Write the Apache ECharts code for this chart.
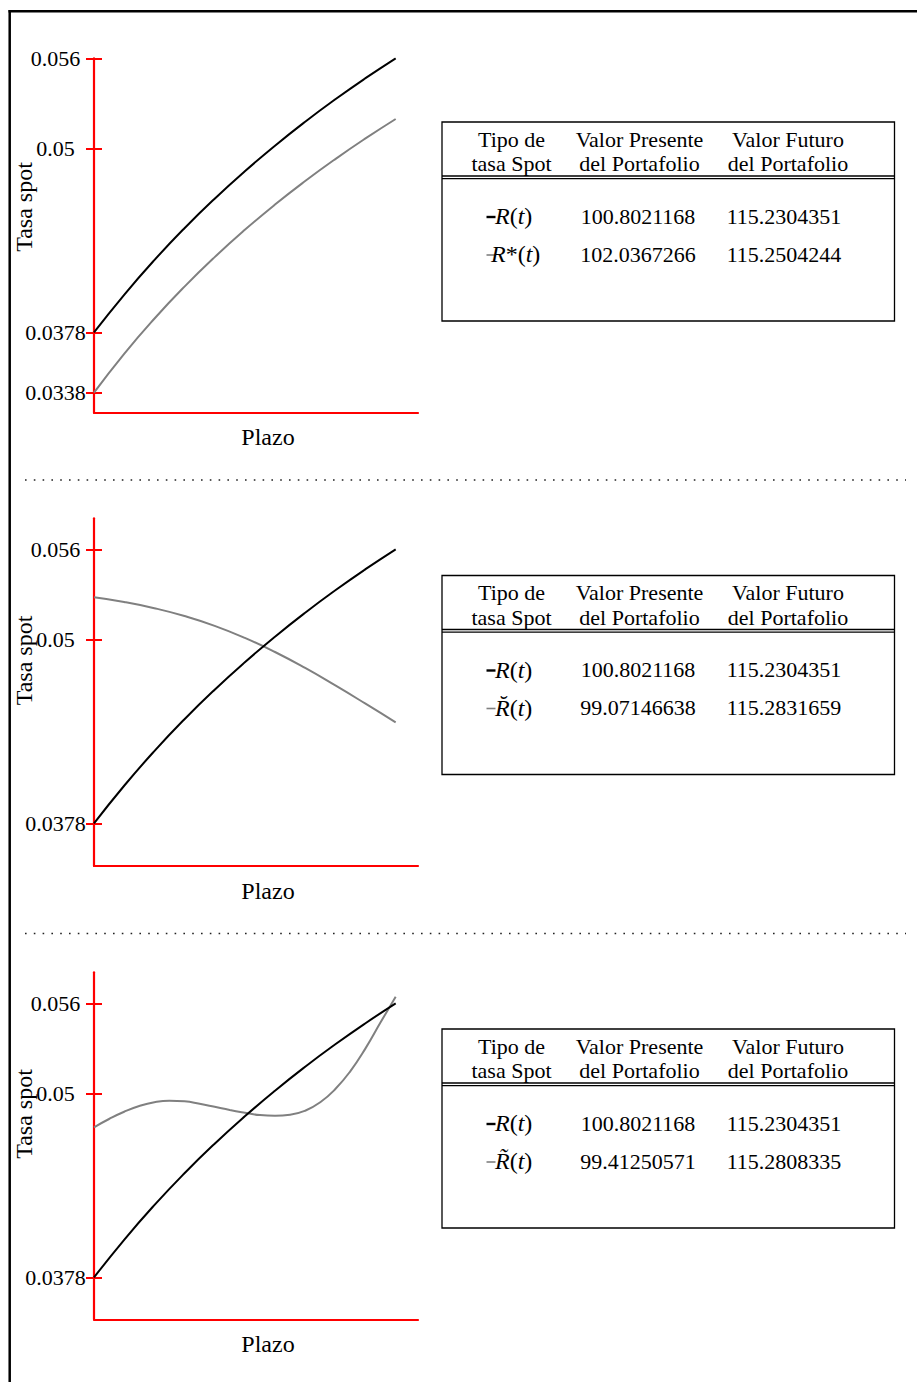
<!DOCTYPE html>
<html>
<head>
<meta charset="utf-8">
<script src="https://cdn.jsdelivr.net/npm/echarts@6/dist/echarts.min.js"></script>
<style>
  html, body { margin: 0; padding: 0; background: #fff; }
  #chart { width: 917px; height: 1382px; }
</style>
</head>
<body>
<div id="chart"></div>
<script>
// Plazo (term) grids: coarse for the smooth curves, fine for the wavy one
const plazo = [0, 1, 2, 3, 4, 5, 6, 7, 8, 9, 10];
const plazoFino = [0, 0.5, 1, 1.5, 2, 2.5, 3, 3.5, 4, 4.5, 5, 5.5, 6, 6.5, 7, 7.5, 8, 8.5, 9, 9.5, 10];

// Spot-rate curves
const tasaR      = [0.03780, 0.04030, 0.04260, 0.04472, 0.04668, 0.04850, 0.05020, 0.05179, 0.05328, 0.05468, 0.05600];
const tasaRStar  = [0.03380, 0.03638, 0.03871, 0.04084, 0.04280, 0.04461, 0.04629, 0.04785, 0.04931, 0.05068, 0.05197];
const tasaRBreve = [0.05281, 0.05250, 0.05209, 0.05157, 0.05092, 0.05012, 0.04918, 0.04812, 0.04696, 0.04575, 0.04451];
const tasaRTilde = [0.04777, 0.04832, 0.04880, 0.04918, 0.04943, 0.04953, 0.04949, 0.04933, 0.04913, 0.04892, 0.04874,
                    0.04858, 0.04854, 0.04860, 0.04887, 0.04943, 0.05031, 0.05150, 0.05301, 0.05474, 0.05644];

// Labelled ticks on the rate axis of each panel
const ticksPanel1 = [0.0338, 0.0378, 0.05, 0.056];
const ticksPanel23 = [0.0378, 0.05, 0.056];

// Table contents
const tableHeader = [['Tipo de', 'tasa Spot'], ['Valor Presente', 'del Portafolio'], ['Valor Futuro', 'del Portafolio']];
const rowNames = [
  ['{i|R}({i|t})', '{i|R}*({i|t})'],
  ['{i|R}({i|t})', '{i|R\u0306}({i|t})'],
  ['{i|R}({i|t})', '{i|R\u0303}({i|t})']
];
const valorPresente = [
  ['100.8021168', '102.0367266'],
  ['100.8021168', '99.07146638'],
  ['100.8021168', '99.41250571']
];
const valorFuturo = [
  ['115.2304351', '115.2504244'],
  ['115.2304351', '115.2831659'],
  ['115.2304351', '115.2808335']
];

const panels = [
  { base: tasaR, alt: tasaRStar,  altX: plazo,     ticks: ticksPanel1,  yMin: 0.03247, yMax: 0.056,   top: 58.3,  height: 354.4 },
  { base: tasaR, alt: tasaRBreve, altX: plazo,     ticks: ticksPanel23, yMin: 0.03497, yMax: 0.05806, top: 518.3, height: 347.7 },
  { base: tasaR, alt: tasaRTilde, altX: plazoFino, ticks: ticksPanel23, yMin: 0.03502, yMax: 0.05806, top: 972.3, height: 347.0 }
];

const STEP = 453.5;
const FONT = 'Liberation Serif';
const RED = '#ff0000';
const GRAY = '#808080';

const grids = [], xAxes = [], yAxes = [], series = [], graphics = [];

const toXY = (xs, ys) => ys.map((v, i) => [xs[i], v]);
const txt = (size) => size + 'px "' + FONT + '"';

panels.forEach((p, k) => {
  grids.push({ left: 94, top: p.top, width: 324, height: p.height, outerBoundsMode: 'none' });
  xAxes.push({
    type: 'value', gridIndex: k, min: 0, max: 10.74,
    axisLine: { onZero: false, lineStyle: { color: RED, width: 2.2 } },
    axisTick: { show: false }, axisLabel: { show: false }, splitLine: { show: false }
  });
  // outer half of each tick plus the labels
  yAxes.push({
    type: 'value', gridIndex: k, position: 'left', min: p.yMin, max: p.yMax,
    axisLine: { show: true, onZero: false, lineStyle: { color: RED, width: 2.2 } },
    axisTick: { show: true, length: 8, customValues: p.ticks, lineStyle: { color: RED, width: 2 } },
    axisLabel: {
      customValues: p.ticks, formatter: v => String(v),
      align: 'center', margin: 38.5,
      fontFamily: FONT, fontSize: 22, color: '#000'
    },
    splitLine: { show: false }
  });
  // inner half of each tick
  yAxes.push({
    type: 'value', gridIndex: k, position: 'left', offset: 0, min: p.yMin, max: p.yMax,
    axisLine: { show: false, onZero: false },
    axisTick: { show: true, inside: true, length: 8, customValues: p.ticks, lineStyle: { color: RED, width: 2 } },
    axisLabel: { show: false }, splitLine: { show: false }
  });
  series.push({
    type: 'line', xAxisIndex: k, yAxisIndex: 2 * k, data: toXY(p.altX, p.alt),
    smooth: 0.5, showSymbol: false, silent: true,
    lineStyle: { color: GRAY, width: 2 }
  });
  series.push({
    type: 'line', xAxisIndex: k, yAxisIndex: 2 * k, data: toXY(plazo, p.base),
    smooth: 0.5, showSymbol: false, silent: true,
    lineStyle: { color: '#000', width: 2 }
  });

  const dy = STEP * k;
  // axis titles
  graphics.push({
    type: 'text', x: 24, y: 207 + dy, rotation: Math.PI / 2,
    style: { text: 'Tasa spot', font: txt(24), fill: '#000', align: 'center', verticalAlign: 'middle' }
  });
  graphics.push({
    type: 'text', x: 268, y: 437 + dy,
    style: { text: 'Plazo', font: txt(24), fill: '#000', align: 'center', verticalAlign: 'middle' }
  });

  // table frame and header rule
  graphics.push({ type: 'rect', shape: { x: 442, y: 122 + dy, width: 452.5, height: 199 },
    style: { fill: 'none', stroke: '#000', lineWidth: 1.3 } });
  graphics.push({ type: 'line', shape: { x1: 442, y1: 176 + dy, x2: 894.5, y2: 176 + dy }, style: { stroke: '#000', lineWidth: 1.3 } });
  graphics.push({ type: 'line', shape: { x1: 442, y1: 178.6 + dy, x2: 894.5, y2: 178.6 + dy }, style: { stroke: '#000', lineWidth: 1.3 } });

  const colX = [511.5, 639.5, 788];
  tableHeader.forEach((lines, c) => {
    lines.forEach((t, r) => {
      graphics.push({
        type: 'text', x: colX[c], y: (r === 0 ? 139 : 163.5) + dy,
        style: { text: t, fontFamily: FONT, fontSize: 22, lineHeight: 22, fill: '#000', align: 'center', verticalAlign: 'middle' }
      });
    });
  });

  const rowY = [216, 254];
  const rowColors = ['#000', GRAY];
  rowY.forEach((y, r) => {
    graphics.push({ type: 'line', shape: { x1: 486.5, y1: y + dy + 1, x2: 495.5, y2: y + dy + 1 },
      style: { stroke: rowColors[r], lineWidth: r === 0 ? 2.4 : 1.6 } });
    graphics.push({
      type: 'text', x: r === 1 && k === 0 ? 491 : 495, y: y + dy,
      style: {
        text: rowNames[k][r], fontFamily: FONT, fontSize: 24, fill: '#000',
        align: 'left', verticalAlign: 'middle',
        rich: { i: { fontFamily: FONT, fontSize: 24, fontStyle: 'italic', fill: '#000' } }
      }
    });
    graphics.push({
      type: 'text', x: 638, y: y + dy,
      style: { text: valorPresente[k][r], font: txt(22), fill: '#000', align: 'center', verticalAlign: 'middle' }
    });
    graphics.push({
      type: 'text', x: 784, y: y + dy,
      style: { text: valorFuturo[k][r], font: txt(22), fill: '#000', align: 'center', verticalAlign: 'middle' }
    });
  });
});

// page frame
graphics.push({ type: 'line', shape: { x1: 9.7, y1: 10, x2: 9.7, y2: 1382 }, style: { stroke: '#000', lineWidth: 2.5 } });
graphics.push({ type: 'line', shape: { x1: 8.5, y1: 11.3, x2: 917, y2: 11.3 }, style: { stroke: '#000', lineWidth: 2.5 } });
// dotted separators between panels
[480, 480 + STEP].forEach(y => {
  graphics.push({ type: 'line', shape: { x1: 25, y1: y, x2: 906, y2: y },
    style: { stroke: '#222', lineWidth: 1.6, lineDash: [1.6, 7.2] } });
});

const chart = echarts.init(document.getElementById('chart'), null, { renderer: 'svg' });
chart.setOption({
  backgroundColor: '#fff',
  animation: false,
  grid: grids,
  xAxis: xAxes,
  yAxis: yAxes,
  series: series,
  graphic: { elements: graphics }
});
</script>
</body>
</html>
